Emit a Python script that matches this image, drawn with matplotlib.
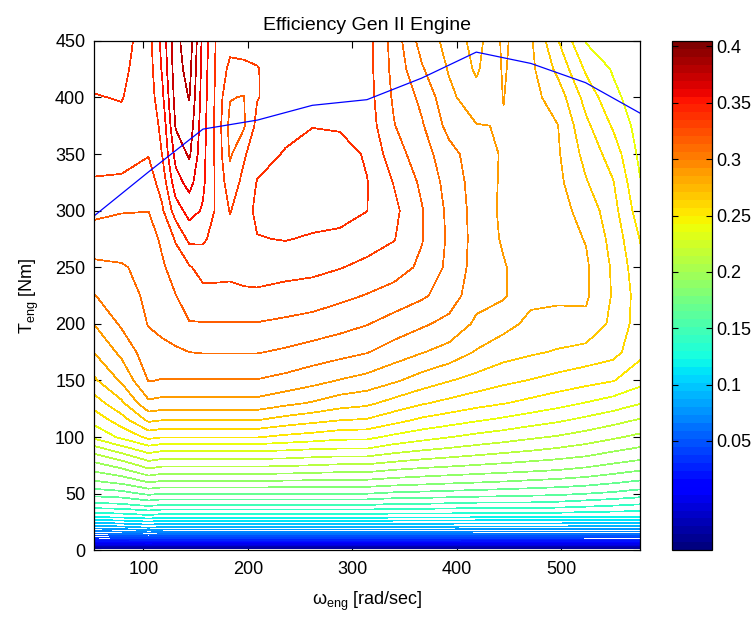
import numpy as np
import matplotlib
matplotlib.use("Agg")
import matplotlib.pyplot as plt
from matplotlib.colors import ListedColormap, Normalize
from matplotlib.cm import ScalarMappable

plt.rcParams["font.family"] = ["Liberation Sans", "DejaVu Sans"]
plt.rcParams["mathtext.fontset"] = "custom"
plt.rcParams["mathtext.rm"] = "Liberation Sans"
plt.rcParams["mathtext.it"] = "Liberation Sans:italic"

# engine speed grid [rad/s] and torque grid [Nm]
speed = [52.36, 79, 105, 118, 131, 144, 157, 170, 183, 196, 209, 236, 262,
         288, 314, 340, 367, 393, 419, 445, 471, 497, 524, 550, 575.96]
torque = [0, 5, 10, 15, 20, 30, 40, 50, 60, 70, 80, 90, 100, 115, 130, 150,
          175, 200, 225, 250, 275, 300, 325, 350, 375, 400, 425, 450]

# efficiency table: one row per speed, values along the torque grid
eff_by_speed = [
    [-0.05, -0.007, 0.032, 0.06, 0.083, 0.1225, 0.1467, 0.164, 0.178, 0.1905, 0.2025, 0.2165, 0.232, 0.243,
     0.2545, 0.268, 0.28, 0.29, 0.2995, 0.308, 0.315, 0.3225, 0.3295, 0.332, 0.335, 0.3395, 0.343, 0.345],
    [-0.05, -0.006, 0.034, 0.063, 0.086, 0.124, 0.148, 0.166, 0.182, 0.1965, 0.211, 0.2265, 0.242, 0.2555,
     0.268, 0.2815, 0.2925, 0.3015, 0.3055, 0.309, 0.3155, 0.3205, 0.3285, 0.3335, 0.3375, 0.3405, 0.342, 0.343],
    [-0.05, -0.004, 0.036, 0.066, 0.09, 0.127, 0.152, 0.172, 0.19, 0.2065, 0.2215, 0.236, 0.2525, 0.272,
     0.288, 0.3005, 0.306, 0.3105, 0.312, 0.313, 0.315, 0.3202, 0.3255, 0.3305, 0.333, 0.334, 0.335, 0.336],
    [-0.05, -0.005, 0.035, 0.065, 0.088, 0.125, 0.15, 0.17, 0.188, 0.204, 0.219, 0.2335, 0.2505, 0.2702,
     0.2865, 0.2995, 0.3075, 0.3125, 0.315, 0.3185, 0.322, 0.3285, 0.334, 0.3402, 0.3425, 0.3475, 0.351, 0.353],
    [-0.05, -0.005, 0.035, 0.065, 0.088, 0.125, 0.15, 0.17, 0.188, 0.204, 0.219, 0.2335, 0.2505, 0.2702,
     0.2865, 0.2995, 0.3085, 0.3155, 0.3198, 0.3245, 0.331, 0.345, 0.356, 0.3635, 0.371, 0.374, 0.376, 0.377],
    [-0.05, -0.005, 0.035, 0.065, 0.088, 0.125, 0.15, 0.17, 0.188, 0.204, 0.219, 0.2335, 0.2505, 0.2702,
     0.2865, 0.2995, 0.31, 0.3195, 0.3245, 0.329, 0.3425, 0.354, 0.3635, 0.3715, 0.376, 0.3805, 0.3835, 0.386],
    [-0.05, -0.005, 0.035, 0.065, 0.088, 0.125, 0.15, 0.17, 0.188, 0.204, 0.219, 0.2335, 0.2505, 0.2702,
     0.2865, 0.2995, 0.3105, 0.3195, 0.3268, 0.334, 0.3415, 0.349, 0.352, 0.353, 0.354, 0.355, 0.356, 0.357],
    [-0.05, -0.005, 0.035, 0.065, 0.088, 0.125, 0.15, 0.17, 0.188, 0.204, 0.219, 0.2335, 0.2505, 0.2702,
     0.2865, 0.2995, 0.3105, 0.3195, 0.3275, 0.333, 0.3365, 0.3385, 0.338, 0.3375, 0.337, 0.3375, 0.338, 0.339],
    [-0.05, -0.005, 0.035, 0.065, 0.088, 0.125, 0.15, 0.17, 0.188, 0.204, 0.219, 0.2335, 0.2505, 0.2702,
     0.2865, 0.2995, 0.3105, 0.3195, 0.3275, 0.3325, 0.3335, 0.3295, 0.3245, 0.3185, 0.317, 0.3205, 0.3275, 0.3335],
    [-0.05, -0.005, 0.035, 0.065, 0.088, 0.125, 0.15, 0.17, 0.188, 0.204, 0.219, 0.2335, 0.2505, 0.2702,
     0.2865, 0.2995, 0.3105, 0.3195, 0.328, 0.334, 0.3355, 0.335, 0.3325, 0.3285, 0.3185, 0.3195, 0.3275, 0.335],
    [-0.05, -0.005, 0.035, 0.065, 0.088, 0.125, 0.15, 0.17, 0.188, 0.204, 0.219, 0.2335, 0.2505, 0.2702,
     0.2865, 0.2995, 0.3105, 0.3195, 0.328, 0.335, 0.3395, 0.3425, 0.3405, 0.336, 0.333, 0.3295, 0.3295, 0.3335],
    [-0.05, -0.005, 0.035, 0.065, 0.088, 0.125, 0.15, 0.17, 0.1875, 0.2035, 0.2183, 0.2325, 0.2475, 0.266,
     0.2825, 0.297, 0.3085, 0.318, 0.3265, 0.3335, 0.3405, 0.345, 0.3465, 0.3408, 0.337, 0.3355, 0.336, 0.3365],
    [-0.05, -0.005, 0.035, 0.065, 0.088, 0.125, 0.15, 0.17, 0.187, 0.2025, 0.217, 0.231, 0.2455, 0.263,
     0.279, 0.2935, 0.306, 0.316, 0.3255, 0.3325, 0.3388, 0.3445, 0.347, 0.346, 0.3395, 0.3365, 0.336, 0.336],
    [-0.05, -0.005, 0.035, 0.065, 0.088, 0.125, 0.15, 0.17, 0.1865, 0.2015, 0.2157, 0.2302, 0.243, 0.2602,
     0.2745, 0.2895, 0.3035, 0.3135, 0.3225, 0.3305, 0.3375, 0.344, 0.3465, 0.3455, 0.3385, 0.3345, 0.3345, 0.335],
    [-0.05, -0.005, 0.035, 0.065, 0.088, 0.125, 0.15, 0.17, 0.1865, 0.2014, 0.2157, 0.2302, 0.2425, 0.259,
     0.2722, 0.2865, 0.3005, 0.3105, 0.3195, 0.3275, 0.3345, 0.3402, 0.3405, 0.3385, 0.3355, 0.3345, 0.334, 0.334],
    [-0.05, -0.005, 0.035, 0.064, 0.087, 0.124, 0.148, 0.168, 0.1845, 0.1985, 0.2125, 0.2255, 0.2375, 0.2535,
     0.2665, 0.2815, 0.2955, 0.306, 0.316, 0.3245, 0.3305, 0.3325, 0.3295, 0.3245, 0.3205, 0.3185, 0.317, 0.316],
    [-0.05, -0.005, 0.035, 0.064, 0.087, 0.124, 0.148, 0.167, 0.183, 0.1965, 0.2095, 0.2222, 0.2335, 0.248,
     0.261, 0.2755, 0.2905, 0.3015, 0.3115, 0.318, 0.3205, 0.3205, 0.318, 0.3145, 0.311, 0.3075, 0.301, 0.2955],
    [-0.05, -0.005, 0.035, 0.064, 0.087, 0.124, 0.147, 0.166, 0.1815, 0.195, 0.2075, 0.2195, 0.2302, 0.2445,
     0.2572, 0.2705, 0.2862, 0.297, 0.3053, 0.3075, 0.3082, 0.3075, 0.306, 0.3035, 0.2965, 0.2925, 0.289, 0.287],
    [-0.05, -0.006, 0.034, 0.063, 0.086, 0.123, 0.146, 0.165, 0.1802, 0.1935, 0.2055, 0.217, 0.227, 0.241,
     0.2535, 0.2665, 0.2791, 0.2882, 0.2935, 0.2958, 0.2962, 0.296, 0.2955, 0.2945, 0.2905, 0.2835, 0.2785, 0.276],
    [-0.05, -0.006, 0.034, 0.063, 0.086, 0.123, 0.146, 0.164, 0.179, 0.192, 0.2035, 0.2145, 0.2245, 0.238,
     0.2505, 0.2625, 0.2742, 0.2833, 0.2912, 0.2908, 0.2888, 0.288, 0.2885, 0.289, 0.2895, 0.2902, 0.291, 0.292],
    [-0.05, -0.006, 0.034, 0.063, 0.086, 0.123, 0.146, 0.163, 0.1775, 0.1905, 0.2015, 0.2122, 0.2215, 0.2345,
     0.2472, 0.2595, 0.2714, 0.2776, 0.2825, 0.284, 0.2845, 0.2845, 0.2845, 0.284, 0.2835, 0.2832, 0.2825, 0.2815],
    [-0.05, -0.006, 0.034, 0.063, 0.086, 0.123, 0.145, 0.162, 0.176, 0.189, 0.1995, 0.2095, 0.219, 0.2315,
     0.2435, 0.2565, 0.269, 0.2772, 0.2815, 0.2835, 0.2842, 0.2835, 0.2825, 0.2812, 0.2802, 0.2755, 0.2675, 0.2605],
    [-0.05, -0.007, 0.033, 0.062, 0.085, 0.122, 0.143, 0.16, 0.174, 0.1865, 0.1972, 0.2065, 0.2155, 0.2275,
     0.2395, 0.2535, 0.2665, 0.2776, 0.2815, 0.2815, 0.2795, 0.2765, 0.2708, 0.2667, 0.2623, 0.2563, 0.2484, 0.2392],
    [-0.05, -0.007, 0.033, 0.062, 0.085, 0.122, 0.141, 0.158, 0.171, 0.183, 0.1935, 0.2025, 0.2115, 0.2235,
     0.2355, 0.2505, 0.2635, 0.2675, 0.269, 0.2685, 0.2665, 0.2635, 0.2605, 0.2555, 0.2488, 0.2425, 0.239, 0.237],
    [-0.05, -0.007, 0.033, 0.062, 0.085, 0.122, 0.139, 0.155, 0.168, 0.1795, 0.1902, 0.199, 0.2075, 0.219,
     0.2305, 0.2435, 0.2525, 0.2552, 0.2552, 0.253, 0.2495, 0.2445, 0.2405, 0.2375, 0.2355, 0.2345, 0.2335, 0.233],
]

# operating line overlaid on the map
line_speed = [52.36, 104.7, 157.1, 209.4, 261.8, 314.2, 366.5, 418.9, 471.2, 523.6, 575.96]
line_torque = [295, 334, 372, 380, 393, 398, 417, 440, 430, 413, 386]

eff = np.array(eff_by_speed).T

jet64 = ListedColormap(plt.get_cmap("jet")(np.linspace(0, 1, 64)))
norm = Normalize(vmin=-0.047, vmax=0.405)
levels = np.linspace(-0.03, 0.38, 42)

fig = plt.figure(figsize=(7.55, 6.18), dpi=100)
ax = fig.add_axes([0.124, 0.1095, 0.724, 0.8245])
cax = fig.add_axes([0.8897, 0.1095, 0.053, 0.8245])

ax.contour(speed, torque, eff, levels=levels, cmap=jet64, norm=norm,
           linewidths=0.5, antialiased=False)
ax.plot(line_speed, line_torque, color=(0, 0, 1), lw=0.9)

ax.set_xlim(speed[0], speed[-1])
ax.set_ylim(0, 450)
ax.set_xticks([100, 200, 300, 400, 500])
ax.set_yticks(np.arange(0, 451, 50))
ax.tick_params(direction="in", top=True, right=True, length=5, width=0.8, labelsize=13)
ax.tick_params(axis="x", pad=8)
ax.tick_params(axis="y", pad=6)
for s in ax.spines.values():
    s.set_linewidth(0.9)

ax.set_title("Efficiency Gen II Engine", fontsize=14, pad=8)
ax.set_xlabel(r"$\mathregular{\omega_{eng}}$ [rad/sec]", fontsize=13, labelpad=8)
ax.set_ylabel(r"$\mathregular{T_{eng}}$ [Nm]", fontsize=13, labelpad=10)

sm = ScalarMappable(norm=norm, cmap=jet64)
cb = fig.colorbar(sm, cax=cax)
ticks = [0.05, 0.1, 0.15, 0.2, 0.25, 0.3, 0.35, 0.4]
cb.set_ticks(ticks)
cb.set_ticklabels(["0.05", "0.1", "0.15", "0.2", "0.25", "0.3", "0.35", "0.4"])
cax.tick_params(direction="in", left=True, right=True, length=4, width=0.8, labelsize=13, pad=3)
cb.outline.set_linewidth(0.9)

fig.savefig("out.png", dpi=100)
